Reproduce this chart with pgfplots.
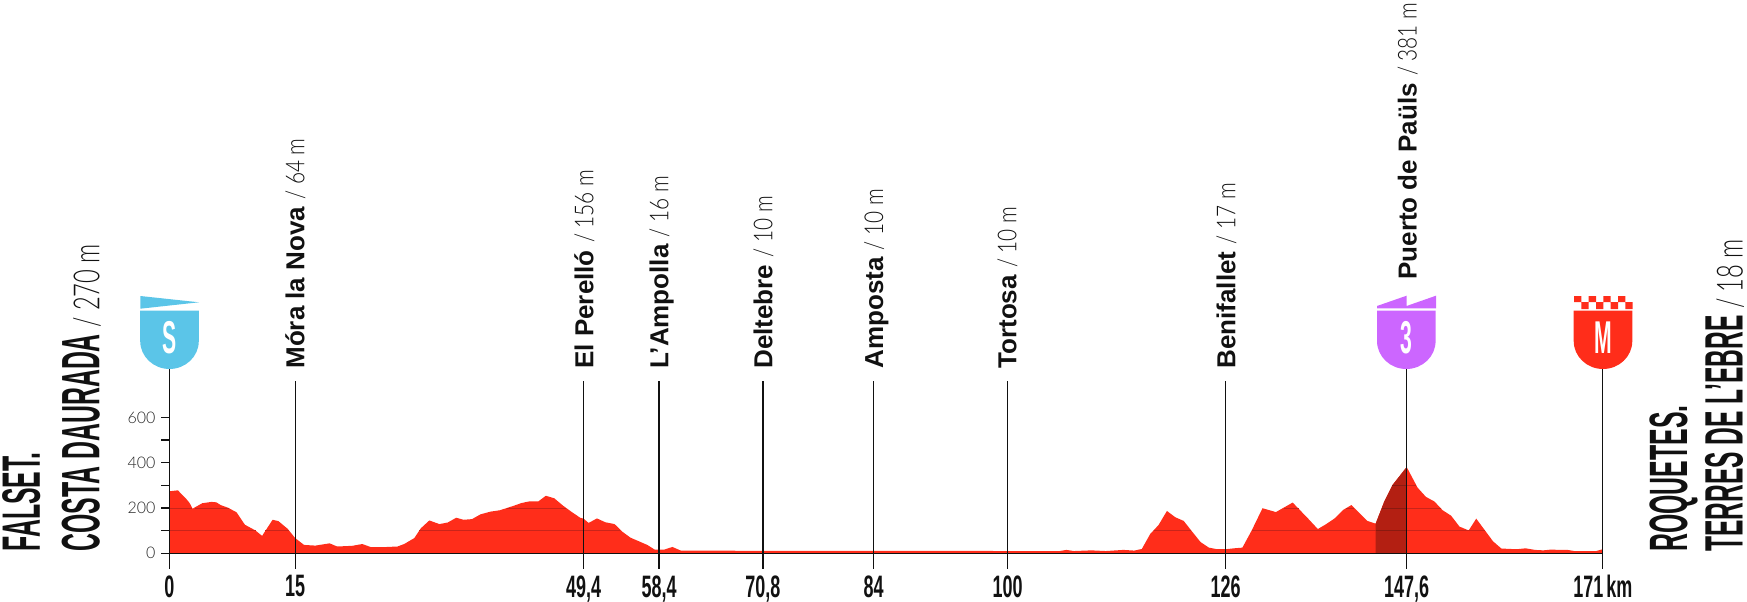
\documentclass[border=0pt]{standalone}
\usepackage{fontspec}
\usepackage{pgfplots}
\pgfplotsset{compat=1.18}
\setmainfont{Liberation Sans}
\newfontfamily\lightfont{Lato Light}
\newfontfamily\stoplight[FakeStretch=0.80]{Lato Light}
\newfontfamily\bigfont[FakeStretch=0.46]{Liberation Sans}
\newfontfamily\bigfontb[FakeStretch=0.455]{Liberation Sans}
\newfontfamily\biglight[FakeStretch=0.66]{Lato Light}
\newfontfamily\tickfont[FakeStretch=0.58,WordSpace=0.6]{Liberation Sans}
\definecolor{prof}{HTML}{FF2D1A}
\definecolor{profdark}{HTML}{B31F12}
\definecolor{gridred}{HTML}{C9241A}
\definecolor{griddark}{HTML}{8A1A10}
\definecolor{startblue}{HTML}{5BC5E8}
\definecolor{kompurple}{HTML}{CC66FF}
\definecolor{ink}{HTML}{111111}

\pgfplotstableread{
km elev
0 274
1 278
2 240
2.4 222
2.75 197
3.9 221
5 227
5.6 225
6.1 213
7 201
8 181
9 126
10.2 102
11.05 77
12.3 148
13 142
14.1 108
15 67
16.05 37
17.4 34
19.1 44
20 30
21.8 33
23 41
24.05 27
25.4 27
27.2 30
28 41
29.2 67
30 111
31 145
32.2 129
33.2 136
34.2 157
35.1 148
36.1 151
37.1 172
38.3 184
39.4 190
41 209
42 222
42.9 229
44 229
44.9 254
45.9 243
47 209
48 182
49 157
49.4 153
50 134
51 154
52 137
53.1 129
54 96
55 69
56 53
57 37
57.9 16
59 16
60 28
61 12
70 11
80 11
90 11
100 10
106.2 10
107 15
107.9 10
110 13
111.7 10
113.8 15
115.1 12
116 19
117 85
118 125
119 187
120 159
121 143
122 96
123 50
124 25
125 18
126 18
127 22
128 25
129.1 100
130.4 199
132 182
134 224
135.9 151
137 107
138 129
139 154
140 191
141 213
142.9 143
143.9 131
144.9 226
145.9 301
147.6 381
148.9 290
149.9 249
150.9 229
151.9 190
152.9 166
153.9 118
155 101
155.9 153
156.9 103
157.9 53
158.9 21
160.7 18
161.8 22
162.9 15
163.9 13
164.7 16
166.8 15
167.6 10
170.2 10
171 18
}\profile

\pgfplotstableread{
km elev
143.9 131
144.9 226
145.9 301
147.6 381
}\climb

% one pixel of the reference = 0.5pt
\newcommand{\stoplabel}[4]{%
  \node[rotate=90,anchor=base west,inner sep=0pt,text=ink] at (#1,#2)
    {\fontsize{13}{13}\selectfont\bfseries #3\ {\stoplight\mdseries / #4 m}};}
\newcommand{\biglabel}[4]{%
  \node[rotate=90,anchor=base west,inner sep=0pt,text=ink] at (#1,#2)
    {\fontsize{27}{27}\selectfont\bigfont\bfseries #3{\biglight\mdseries\fontsize{18}{18}\selectfont #4}};}
\newcommand{\shieldbody}[2]{%
  \fill[#2] (#1-29.3,290.3) -- (#1+29.3,290.3) -- (#1+29.3,260)
    arc[start angle=0,end angle=-180,x radius=29.3,y radius=28] -- cycle;}
\newcommand{\shieldletter}[2]{%
  \node[anchor=base,inner sep=0pt,text=white] at (#1,248)
    {\fontsize{23}{23}\selectfont\bigfont\bfseries #2};}

\begin{document}
\begin{tikzpicture}[x=0.5pt,y=0.5pt]
\useasboundingbox (0,0) rectangle (1747,601);
\begin{axis}[
    at={(84.75pt,23.85pt)},
    anchor=south west,
    scale only axis,
    width=716.65pt,
    height=79.27pt,
    xmin=0, xmax=171,
    ymin=0, ymax=700,
    clip=false,
    axis on top,
    axis x line=bottom,
    axis y line=left,
    axis line style={-,ink,line width=0.65pt},
    xtick={0,15,49.4,58.4,70.8,84,100,126,147.6,171},
    xticklabels={0,15,{49,4},{58,4},{70,8},84,100,126,{147,6},171 km},
    ytick={0,100,200,300,400,500,600},
    yticklabels={0,,200,,400,,600},
    tick align=outside,
    tick style={ink,line width=0.65pt},
    major tick length=4pt,
    xticklabel style={font=\fontsize{15.5}{15.5}\selectfont\tickfont\bfseries,text=ink,yshift=-3.5pt},
    yticklabel style={font=\fontsize{8}{8}\selectfont\lightfont,text=black!85,xshift=0.5pt},
]
\addplot[fill=prof,draw=none] table[x=km,y=elev] {\profile} \closedcycle;
\addplot[fill=profdark,draw=none] table[x=km,y=elev] {\climb} \closedcycle;

% height lines only show inside the profile
\addplot[gridred,line width=0.5pt] coordinates {(0,100)(10.3,100)};
\addplot[gridred,line width=0.5pt] coordinates {(11.45,100)(14.3,100)};
\addplot[gridred,line width=0.5pt] coordinates {(29.8,100)(53.8,100)};
\addplot[gridred,line width=0.5pt] coordinates {(117.4,100)(121.9,100)};
\addplot[gridred,line width=0.5pt] coordinates {(129.1,100)(143.9,100)};
\addplot[griddark,line width=0.5pt] coordinates {(143.9,100)(147.6,100)};
\addplot[gridred,line width=0.5pt] coordinates {(147.6,100)(157,100)};
\addplot[gridred,line width=0.5pt] coordinates {(0,200)(2.7,200)};
\addplot[gridred,line width=0.5pt] coordinates {(3,200)(7.05,200)};
\addplot[gridred,line width=0.5pt] coordinates {(40.24,200)(47.33,200)};
\addplot[gridred,line width=0.5pt] coordinates {(133,200)(134.7,200)};
\addplot[gridred,line width=0.5pt] coordinates {(140.4,200)(141.35,200)};
\addplot[griddark,line width=0.5pt] coordinates {(144.63,200)(147.6,200)};
\addplot[gridred,line width=0.5pt] coordinates {(147.6,200)(151.65,200)};
\addplot[griddark,line width=0.5pt] coordinates {(145.9,300)(147.6,300)};
\addplot[gridred,line width=0.5pt] coordinates {(147.6,300)(148.76,300)};

% stems
\addplot[ink,line width=0.65pt] coordinates {(0,-68)(0,813)};
\addplot[ink,line width=0.65pt] coordinates {(15,-68)(15,761)};
\addplot[ink,line width=0.65pt] coordinates {(49.4,-68)(49.4,761)};
\addplot[ink,line width=0.65pt] coordinates {(58.4,-68)(58.4,761)};
\addplot[ink,line width=0.65pt] coordinates {(70.8,-68)(70.8,761)};
\addplot[ink,line width=0.65pt] coordinates {(84,-68)(84,761)};
\addplot[ink,line width=0.65pt] coordinates {(100,-68)(100,761)};
\addplot[ink,line width=0.65pt] coordinates {(126,-68)(126,761)};
\addplot[ink,line width=0.65pt] coordinates {(147.6,-68)(147.6,813)};
\addplot[ink,line width=0.65pt] coordinates {(171,-68)(171,813)};
\end{axis}

% start shield
\shieldbody{169.5}{startblue}
\fill[startblue] (140.3,305) -- (199,298.7) -- (140.3,292.3) -- cycle;
\shieldletter{169.5}{S}
% climb shield
\shieldbody{1406.3}{kompurple}
\fill[kompurple] (1377,292.7) -- (1377,295) -- (1406.6,305.3) -- (1406.6,295) -- (1436,305.3) -- (1436,292.7) -- cycle;
\shieldletter{1406.3}{3}
% finish shield
\shieldbody{1603}{prof}
\fill[prof] (1574,305) rectangle ++(7.3,-6) (1588.7,305) rectangle ++(7.3,-6)
            (1603.3,305) rectangle ++(7.3,-6) (1618,305) rectangle ++(7.3,-6)
            (1581.3,299) rectangle ++(7.4,-7) (1596,299) rectangle ++(7.3,-7)
            (1610.6,299) rectangle ++(7.4,-7) (1625.3,299) rectangle ++(7.2,-7);
\shieldletter{1603}{M}

\stoplabel{304.3}{232}{Móra la Nova}{64}
\stoplabel{593.3}{232}{El Perelló}{156}
\stoplabel{668.3}{232}{L’Ampolla}{16}
\stoplabel{772.3}{232}{Deltebre}{10}
\stoplabel{883}{232}{Amposta}{10}
\stoplabel{1016.4}{232}{Tortosa}{10}
\stoplabel{1235.4}{232}{Benifallet}{17}
\stoplabel{1416.7}{321}{Puerto de Paüls}{381}

\biglabel{40}{49}{FALSET.}{}
\biglabel{99.3}{49}{COSTA DAURADA}{\ / 270 m}
\biglabel{1687}{49}{ROQUETES.}{}
\node[rotate=90,anchor=base west,inner sep=0pt,text=ink] at (1742.5,49)
  {\fontsize{27}{27}\selectfont\bigfontb\bfseries TERRES DE L’EBRE{\biglight\mdseries\fontsize{18}{18}\selectfont\ / 18 m}};
\end{tikzpicture}
\end{document}
